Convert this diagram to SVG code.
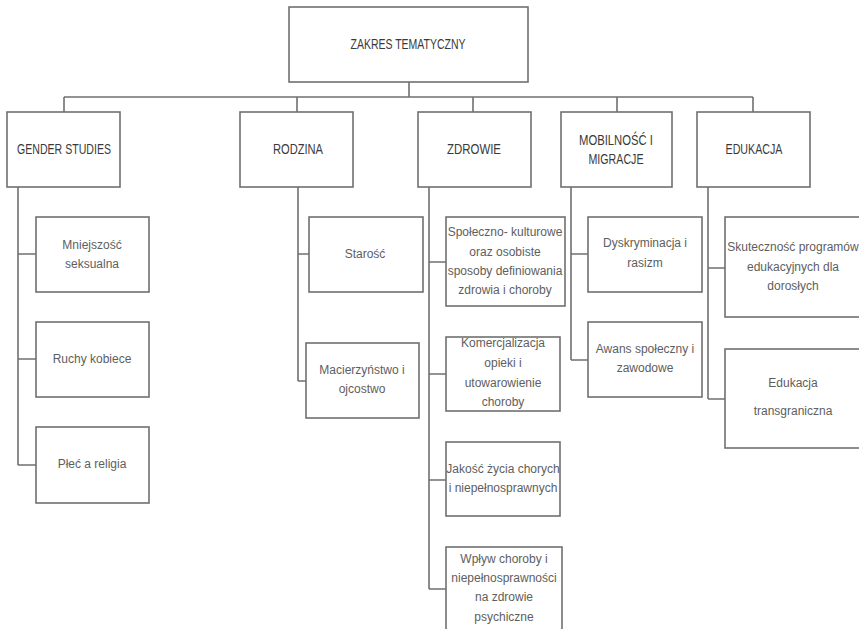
<svg xmlns="http://www.w3.org/2000/svg" width="859" height="629" viewBox="0 0 859 629">
<style>
.box{fill:#fff;stroke:#707070;stroke-width:1.6}
.con{fill:none;stroke:#707070;stroke-width:1.6}
.h{font-family:"Liberation Sans",Arial,sans-serif;font-size:15px;fill:#3a3a3a;text-anchor:middle}
.t{font-family:"Liberation Sans",Arial,sans-serif;font-size:12px;fill:#5e5e5e;text-anchor:middle}
</style>
<rect width="859" height="629" fill="#fff"/>
<g id="connectors">
<path class="con" d="M409,82V97M64,97H753M64,97V112M297,97V112M473,97V112M617,97V112M753,97V112"/>
<path class="con" d="M18,187V465M18,254H36M18,359H36M18,465H36"/>
<path class="con" d="M298,187V381M298,254H309M298,381H306"/>
<path class="con" d="M429,187V589M429,262H446M429,374H446M429,480H446M429,589H446"/>
<path class="con" d="M571,187V360M571,254H588M571,360H588"/>
<path class="con" d="M708,187V399M708,268H725M708,399H725"/>
</g>
<g id="root"><rect class="box" x="289" y="7" width="239" height="75"/><text class="h" x="408" y="49" textLength="115" lengthAdjust="spacingAndGlyphs">ZAKRES TEMATYCZNY</text></g>
<g id="gender"><rect class="box" x="7" y="112" width="113" height="75"/><text class="h" x="64" y="154" textLength="94" lengthAdjust="spacingAndGlyphs">GENDER STUDIES</text></g>
<g id="rodzina"><rect class="box" x="240" y="112" width="113" height="75"/><text class="h" x="298" y="154" textLength="50" lengthAdjust="spacingAndGlyphs">RODZINA</text></g>
<g id="zdrowie"><rect class="box" x="418" y="112" width="113" height="75"/><text class="h" x="474" y="154" textLength="54" lengthAdjust="spacingAndGlyphs">ZDROWIE</text></g>
<g id="mobilnosc"><rect class="box" x="561" y="112" width="111" height="75"/><text class="h" x="616" y="145" textLength="74" lengthAdjust="spacingAndGlyphs">MOBILNOŚĆ I</text><text class="h" x="616" y="164" textLength="55" lengthAdjust="spacingAndGlyphs">MIGRACJE</text></g>
<g id="edukacja"><rect class="box" x="697" y="112" width="113" height="75"/><text class="h" x="754" y="154" textLength="57" lengthAdjust="spacingAndGlyphs">EDUKACJA</text></g>
<g id="mniejszosc"><rect class="box" x="36" y="217" width="113" height="75"/><text class="t" x="92" y="249">Mniejszość</text><text class="t" x="92" y="268">seksualna</text></g>
<g id="ruchy"><rect class="box" x="36" y="322" width="113" height="75"/><text class="t" x="92" y="363">Ruchy kobiece</text></g>
<g id="plec"><rect class="box" x="36" y="427" width="113" height="76"/><text class="t" x="92" y="468">Płeć a religia</text></g>
<g id="starosc"><rect class="box" x="309" y="217" width="114" height="75"/><text class="t" x="365" y="258">Starość</text></g>
<g id="macierzynstwo"><rect class="box" x="306" y="343" width="113" height="75"/><text class="t" x="362" y="374">Macierzyństwo i</text><text class="t" x="362" y="393">ojcostwo</text></g>
<g id="spoleczno"><rect class="box" x="446" y="217" width="119" height="89"/><text class="t" x="505" y="236">Społeczno- kulturowe</text><text class="t" x="505" y="256">oraz osobiste</text><text class="t" x="505" y="275">sposoby definiowania</text><text class="t" x="505" y="294">zdrowia i choroby</text></g>
<g id="komercjalizacja"><rect class="box" x="446" y="337" width="114" height="74"/><text class="t" x="503" y="347">Komercjalizacja</text><text class="t" x="503" y="367">opieki i</text><text class="t" x="503" y="387">utowarowienie</text><text class="t" x="503" y="406">choroby</text></g>
<g id="jakosc"><rect class="box" x="446" y="442" width="114" height="74"/><text class="t" x="503" y="473">Jakość życia chorych</text><text class="t" x="503" y="492">i niepełnosprawnych</text></g>
<g id="wplyw"><rect class="box" x="446" y="547" width="116" height="90"/><text class="t" x="504" y="563">Wpływ choroby i</text><text class="t" x="504" y="582">niepełnosprawności</text><text class="t" x="504" y="601">na zdrowie</text><text class="t" x="504" y="621">psychiczne</text></g>
<g id="dyskryminacja"><rect class="box" x="588" y="217" width="114" height="75"/><text class="t" x="645" y="247">Dyskryminacja i</text><text class="t" x="645" y="267">rasizm</text></g>
<g id="awans"><rect class="box" x="588" y="322" width="114" height="75"/><text class="t" x="645" y="353">Awans społeczny i</text><text class="t" x="645" y="372">zawodowe</text></g>
<g id="skutecznosc"><rect class="box" x="725" y="217" width="138" height="100"/><text class="t" x="793" y="251">Skuteczność programów</text><text class="t" x="793" y="271">edukacyjnych dla</text><text class="t" x="793" y="290">dorosłych</text></g>
<g id="transgraniczna"><rect class="box" x="725" y="349" width="138" height="99"/><text class="t" x="793" y="387">Edukacja</text><text class="t" x="793" y="415">transgraniczna</text></g>
</svg>
